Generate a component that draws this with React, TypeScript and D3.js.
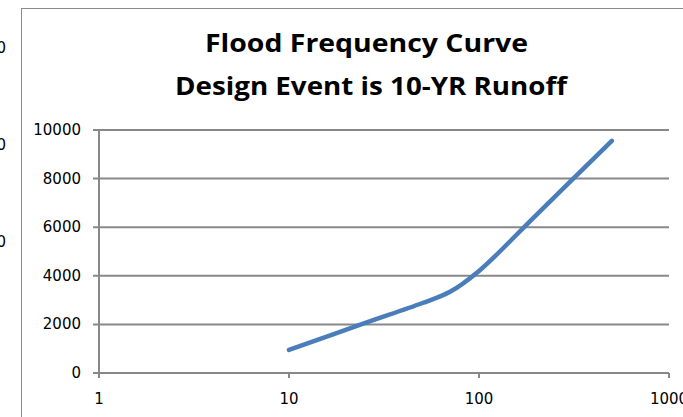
import React from "react";
import * as d3 from "d3";

const returnPeriods = [10, 25, 50, 70, 100, 200, 500];
const runoff = [950, 2050, 2870, 3330, 4200, 6500, 9550];
const yTicks = [0, 2000, 4000, 6000, 8000, 10000];
const xTicks = [1, 10, 100, 1000];
const titleLines = ["Flood Frequency Curve", "Design Event is 10-YR Runoff"];
const strayLabels = ["0", "0", "0"];

export default function App() {
  const W = 683, H = 417;
  const x = d3.scaleLog().domain([1, 1000]).range([99, 669]);
  const y = d3.scaleLinear().domain([0, 10000]).range([373, 130]);
  const line = d3
    .line<number>()
    .x((_, i) => x(returnPeriods[i]))
    .y((d) => y(d))
    .curve(d3.curveCatmullRom.alpha(0.5));
  const grid = "#888888";
  const tickFont = "'DejaVu Sans', Verdana, sans-serif";
  const titleFont = "'Open Sans', Lato, sans-serif";
  return (
    <div style={{ position: "fixed", left: 0, top: 0 }}>
      <svg width={W} height={H} style={{ display: "block", background: "#fff" }}>
        {/* stray labels of neighbouring chart (clipped in the reference) */}
        {strayLabels.map((t, i) => (
          <text key={i} x={6} y={[48, 145, 242][i]} textAnchor="end" dominantBaseline="central"
            fontFamily={tickFont} fontSize={15} fill="#000">{t}</text>
        ))}
        {/* chart border */}
        <line x1={21.5} x2={21.5} y1={8} y2={H} stroke="#8a8a8a" strokeWidth={1} />
        <line x1={21} x2={W} y1={8.5} y2={8.5} stroke="#8a8a8a" strokeWidth={1} />
        {/* title */}
        <text x={205} y={52} fontFamily={titleFont} textLength={323} lengthAdjust="spacingAndGlyphs"
          fontWeight={700} fontSize={25.5} fill="#000">{titleLines[0]}</text>
        <text x={175} y={95} fontFamily={titleFont} textLength={392} lengthAdjust="spacingAndGlyphs"
          fontWeight={700} fontSize={25.5} fill="#000">{titleLines[1]}</text>
        {/* gridlines + y ticks */}
        {yTicks.map((t) => (
          <g key={t}>
            <line x1={93} x2={669} y1={y(t)} y2={y(t)} stroke={grid} strokeWidth={2} />
            <text x={81} y={y(t)} textAnchor="end" dominantBaseline="central"
              fontFamily={tickFont} fontSize={15} fill="#000">{t}</text>
          </g>
        ))}
        {/* y axis */}
        <line x1={x(1)} x2={x(1)} y1={y(10000)} y2={378} stroke={grid} strokeWidth={2} />
        {/* x ticks */}
        {xTicks.map((t) => (
          <g key={t}>
            <line x1={x(t)} x2={x(t)} y1={y(0)} y2={378} stroke={grid} strokeWidth={2} />
            <text x={x(t)} y={399} textAnchor="middle" dominantBaseline="central"
              fontFamily={tickFont} fontSize={15} fill="#000">{t}</text>
          </g>
        ))}
        {/* curve */}
        <path d={line(runoff) || ""} fill="none" stroke="#4a7ebb" strokeWidth={4.5}
          strokeLinecap="round" strokeLinejoin="round" />
      </svg>
    </div>
  );
}
